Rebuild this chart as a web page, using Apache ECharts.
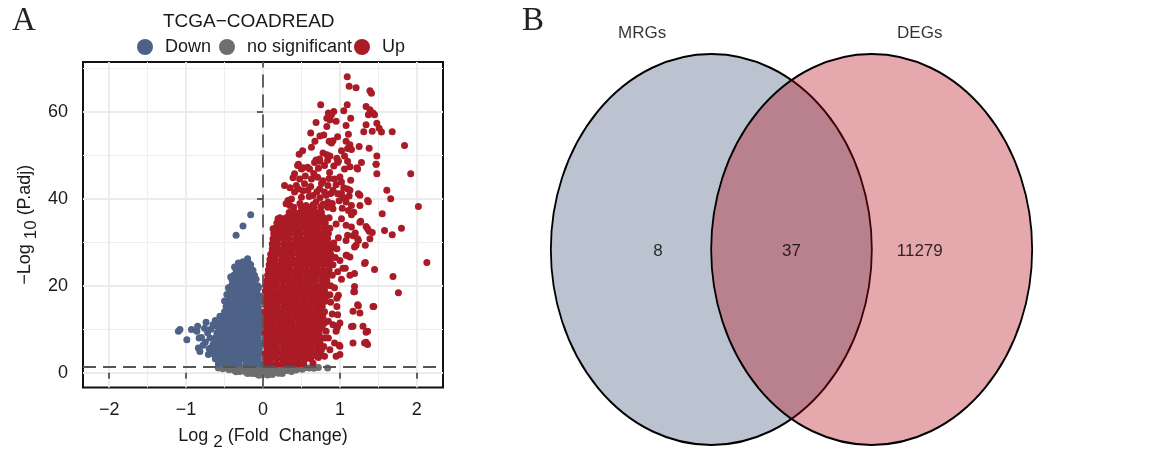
<!DOCTYPE html>
<html>
<head>
<meta charset="utf-8">
<title>TCGA-COADREAD volcano and Venn</title>
<script src="https://cdn.jsdelivr.net/npm/echarts@6/dist/echarts.min.js"></script>
<style>
html, body { margin: 0; padding: 0; background: #fff; }
#chart { width: 1154px; height: 456px; }
</style>
</head>
<body>
<div id="chart"></div>
<script>
// ---- panel A: volcano plot ----
var xTicks = [-2, -1, 0, 1, 2];
var xMinorTicks = [-1.5, -0.5, 0.5, 1.5];
var yTicks = [0, 20, 40, 60];
var yMinorTicks = [10, 30, 50, 70];
var fcCutoff = 0;
var padjCutoff = 1.3;
var groups = ['Down', 'no significant', 'Up'];

// [log2FC, -log10 p.adj]
var noSigPoints = [
    [-0.58, 1.1], [-0.52, 0.9], [-0.47, 1.2], [-0.44, 0.7], [-0.4, 1.0], [-0.37, 0.5], [-0.35, 0.2],
    [-0.33, 0.9], [-0.3, 0.3], [-0.28, 1.1], [-0.25, 0.6], [-0.22, 0.1], [-0.2, 1.0], [-0.2, -0.2],
    [-0.17, 0.4], [-0.15, -0.1], [-0.13, 0.8], [-0.12, -0.2], [-0.1, 0.2], [-0.08, -0.3], [-0.06, 0.9],
    [-0.05, -0.6], [-0.04, 0.4], [-0.02, -0.4], [0.0, 0.6], [0.02, 0.1], [0.03, -0.3], [0.05, 0.9],
    [0.06, -0.5], [0.07, 0.3], [0.09, -0.2], [0.11, 0.7], [0.12, -0.4], [0.13, 0.1], [0.15, 1.1],
    [0.17, 0.4], [0.2, -0.1], [0.22, 0.8], [0.25, 0.3], [0.25, -0.2], [0.28, 1.0], [0.31, 0.5],
    [0.34, 0.9], [0.37, 0.3], [0.4, 1.1], [0.43, 0.6], [0.47, 1.0], [0.51, 0.8], [0.55, 1.2],
    [0.6, 1.1], [0.66, 1.0], [0.72, 1.2], [0.84, 1.1]
];

// dense parts read row by row: [-log10 p.adj, log2FC, log2FC, ...]
var downRows = [
    [2.0, -0.58, -0.5, -0.45, -0.37, -0.31, -0.22, -0.16, -0.1, -0.03],
    [3.2, -0.62, -0.55, -0.48, -0.41, -0.34, -0.27, -0.2, -0.13, -0.06],
    [4.4, -0.66, -0.59, -0.52, -0.45, -0.38, -0.31, -0.24, -0.17, -0.1, -0.03],
    [5.6, -0.68, -0.61, -0.54, -0.47, -0.4, -0.33, -0.26, -0.19, -0.12, -0.05],
    [6.8, -0.63, -0.56, -0.49, -0.42, -0.35, -0.28, -0.21, -0.14, -0.07, -0.03],
    [8.0, -0.62, -0.55, -0.48, -0.41, -0.34, -0.27, -0.2, -0.13, -0.06],
    [9.2, -0.6, -0.53, -0.46, -0.39, -0.32, -0.25, -0.18, -0.11, -0.04],
    [10.4, -0.57, -0.5, -0.43, -0.36, -0.29, -0.22, -0.15, -0.08, -0.03],
    [11.6, -0.54, -0.47, -0.4, -0.33, -0.26, -0.19, -0.12, -0.05],
    [12.8, -0.52, -0.45, -0.38, -0.31, -0.24, -0.17, -0.1, -0.03],
    [14.0, -0.5, -0.43, -0.36, -0.29, -0.22, -0.15, -0.08, -0.03],
    [15.2, -0.48, -0.41, -0.34, -0.27, -0.2, -0.13, -0.06],
    [16.4, -0.45, -0.38, -0.31, -0.24, -0.17, -0.1, -0.03],
    [17.6, -0.44, -0.37, -0.3, -0.23, -0.16, -0.09, -0.04],
    [18.8, -0.43, -0.36, -0.29, -0.22, -0.15, -0.08],
    [20.0, -0.41, -0.34, -0.27, -0.2, -0.13, -0.07],
    [21.2, -0.4, -0.33, -0.26, -0.19, -0.12],
    [22.4, -0.38, -0.31, -0.24, -0.17, -0.11],
    [23.6, -0.35, -0.28, -0.21, -0.14],
    [24.8, -0.3, -0.23, -0.16],
    [25.8, -0.2]
];

var downPoints = [
    [-0.16, 36.3], [-0.26, 33.7], [-0.35, 31.6],
    [-1.1, 9.5], [-1.08, 9.9], [-0.99, 7.6], [-0.93, 9.9], [-0.85, 10.7], [-0.86, 9.5],
    [-0.74, 11.6], [-0.83, 8.0], [-0.8, 8.1], [-0.84, 5.7], [-0.82, 4.9], [-0.71, 4.2],
    [-0.65, 11.0], [-0.6, 10.7], [-0.69, 8.0], [-0.65, 6.5], [-0.58, 2.7], [-0.75, 7.0],
    [-0.72, 9.2], [-0.78, 6.3], [-0.7, 5.5], [-0.76, 10.2], [-0.68, 10.0], [-0.62, 12.0],
    [-0.56, 13.0], [-0.5, 16.5], [-0.47, 18.0], [-0.45, 19.5], [-0.42, 22.0], [-0.37, 24.3],
    [-0.32, 25.2], [-0.26, 25.5], [-0.18, 25.0], [-0.13, 23.5], [-0.09, 21.5], [-0.06, 19.5],
    [-0.2, 26.2], [-0.28, 24.6]
];

var upRows = [
    [2.0, 0.03, 0.1, 0.18, 0.25, 0.31, 0.39, 0.46, 0.53],
    [3.2, 0.04, 0.11, 0.18, 0.26, 0.33, 0.4, 0.47, 0.55, 0.62],
    [4.4, 0.03, 0.1, 0.17, 0.24, 0.31, 0.38, 0.45, 0.52, 0.6, 0.67],
    [5.6, 0.05, 0.12, 0.19, 0.27, 0.34, 0.41, 0.48, 0.56, 0.63, 0.71],
    [6.8, 0.03, 0.1, 0.17, 0.25, 0.32, 0.39, 0.46, 0.53, 0.6, 0.67, 0.74],
    [8.0, 0.05, 0.13, 0.2, 0.27, 0.34, 0.42, 0.49, 0.56, 0.63, 0.7, 0.76],
    [9.2, 0.03, 0.1, 0.17, 0.24, 0.31, 0.38, 0.45, 0.52, 0.59, 0.66, 0.73],
    [10.4, 0.05, 0.12, 0.2, 0.27, 0.34, 0.41, 0.48, 0.55, 0.62, 0.7, 0.77],
    [11.6, 0.03, 0.1, 0.17, 0.24, 0.31, 0.38, 0.46, 0.53, 0.6, 0.67, 0.74],
    [12.8, 0.05, 0.12, 0.19, 0.26, 0.33, 0.41, 0.48, 0.55, 0.62, 0.69, 0.77],
    [14.0, 0.03, 0.1, 0.17, 0.24, 0.31, 0.38, 0.45, 0.52, 0.6, 0.67, 0.74, 0.8],
    [15.2, 0.05, 0.12, 0.19, 0.27, 0.34, 0.41, 0.48, 0.55, 0.62, 0.7, 0.77],
    [16.4, 0.03, 0.1, 0.17, 0.24, 0.31, 0.38, 0.45, 0.53, 0.6, 0.67, 0.74, 0.81],
    [17.6, 0.05, 0.12, 0.19, 0.26, 0.33, 0.4, 0.47, 0.54, 0.62, 0.69, 0.76, 0.83],
    [18.8, 0.03, 0.1, 0.17, 0.24, 0.31, 0.38, 0.45, 0.52, 0.59, 0.66, 0.73, 0.8],
    [20.0, 0.04, 0.11, 0.18, 0.26, 0.33, 0.4, 0.47, 0.54, 0.61, 0.68, 0.75, 0.82, 0.88],
    [21.2, 0.05, 0.12, 0.19, 0.26, 0.33, 0.4, 0.47, 0.54, 0.61, 0.68, 0.76, 0.83],
    [22.4, 0.06, 0.13, 0.2, 0.27, 0.34, 0.41, 0.48, 0.56, 0.63, 0.7, 0.77, 0.84, 0.9],
    [23.6, 0.07, 0.14, 0.21, 0.28, 0.35, 0.43, 0.5, 0.57, 0.64, 0.71, 0.78, 0.86],
    [24.8, 0.08, 0.15, 0.22, 0.29, 0.36, 0.43, 0.5, 0.57, 0.64, 0.71, 0.78, 0.85, 0.91],
    [26.0, 0.09, 0.16, 0.24, 0.31, 0.38, 0.45, 0.52, 0.59, 0.66, 0.73, 0.8, 0.87],
    [27.2, 0.1, 0.17, 0.24, 0.31, 0.38, 0.46, 0.53, 0.6, 0.67, 0.74, 0.81, 0.88],
    [28.4, 0.12, 0.19, 0.26, 0.33, 0.4, 0.47, 0.54, 0.61, 0.68, 0.75, 0.82, 0.88],
    [29.6, 0.12, 0.19, 0.27, 0.34, 0.41, 0.48, 0.55, 0.62, 0.69, 0.76, 0.83, 0.9],
    [30.8, 0.13, 0.2, 0.27, 0.34, 0.42, 0.49, 0.56, 0.63, 0.7, 0.77, 0.84],
    [32.0, 0.14, 0.21, 0.28, 0.35, 0.42, 0.49, 0.57, 0.64, 0.71, 0.78, 0.85],
    [33.2, 0.16, 0.23, 0.3, 0.37, 0.44, 0.51, 0.58, 0.65, 0.72, 0.8, 0.87],
    [34.4, 0.18, 0.25, 0.32, 0.39, 0.46, 0.53, 0.6, 0.67, 0.74, 0.81],
    [35.6, 0.22, 0.3, 0.37, 0.44, 0.51, 0.58, 0.65, 0.72, 0.79, 0.86],
    [36.8, 0.34, 0.41, 0.48, 0.55, 0.62, 0.69, 0.76],
    [38.0, 0.4, 0.5, 0.58, 0.66, 0.75, 0.84]
];

var upPoints = [
    // top
    [1.095, 68.0], [1.12, 65.8], [1.21, 65.5], [1.39, 64.8], [1.41, 64.2],
    [0.75, 61.6], [1.095, 61.6], [1.34, 61.2], [0.85, 59.7], [0.89, 59.3], [0.92, 60.0], [1.05, 60.2],
    [1.39, 60.4], [1.43, 59.7], [1.45, 59.3], [0.87, 58.1], [0.95, 57.8], [0.83, 58.5], [1.14, 58.5],
    [0.69, 57.5], [1.37, 59.3], [1.34, 57.0], [1.48, 57.3], [1.51, 56.2], [1.54, 55.3], [1.08, 56.8],
    [0.83, 56.6], [1.31, 55.4], [1.42, 55.5], [1.68, 55.4], [0.62, 55.1], [1.11, 54.8], [0.74, 54.4],
    [0.79, 54.6], [0.97, 54.2], [0.675, 53.2], [0.86, 53.2], [0.89, 52.8], [0.91, 53.3], [1.08, 53.2],
    [1.13, 52.4], [1.1, 51.5], [1.15, 51.3], [1.02, 51.0], [1.06, 49.8], [1.25, 52.0], [1.38, 51.6],
    [1.84, 52.2], [0.63, 51.8], [0.515, 51.0], [0.47, 50.2], [0.78, 50.5], [0.83, 50.1], [0.87, 49.8],
    [0.69, 48.9], [0.74, 48.6], [0.96, 49.3], [0.98, 48.6], [1.48, 49.8], [1.47, 47.9], [1.28, 48.3],
    [0.46, 47.9], [0.52, 47.1], [1.1, 48.6], [1.13, 47.3], [1.22, 47.1],
    // middle band
    [0.28, 43.0], [0.325, 39.6], [0.35, 38.4], [0.45, 47.6], [1.23, 46.8], [1.36, 39.6], [1.26, 38.4],
    [0.5, 46.8], [0.41, 45.7], [0.476, 44.5], [0.54, 43.4], [0.584, 41.9], [0.65, 40.7], [0.69, 39.2],
    [0.71, 44.9], [0.78, 44.1], [0.844, 43.0], [0.91, 41.9], [0.97, 41.1], [1.04, 40.3], [1.08, 39.2],
    [1.15, 38.4], [0.8, 41.5], [0.736, 42.2], [0.63, 44.5], [0.606, 46.8], [0.67, 48.3], [0.736, 49.1],
    [0.8, 47.6], [0.866, 46.0], [0.93, 44.5], [1.02, 43.8], [1.06, 46.8], [0.97, 48.3], [1.1, 42.2],
    [0.41, 41.5], [0.433, 43.0], [0.37, 39.9], [0.3, 38.8], [0.5, 40.3], [0.56, 38.4], [0.844, 39.2],
    [0.91, 37.7], [0.35, 42.5], [0.39, 44.8], [0.46, 42.2], [0.52, 41.8], [0.55, 45.2], [0.6, 40.5],
    [0.62, 42.8], [0.66, 45.8], [0.7, 41.6], [0.74, 40.2], [0.76, 43.5], [0.82, 40.8], [0.86, 44.6],
    [0.88, 41.2], [0.9, 38.9], [0.95, 43.2], [0.99, 39.5], [1.0, 45.0], [1.03, 37.8], [1.05, 42.5],
    [1.12, 40.6], [1.14, 44.2], [1.18, 36.9], [0.48, 38.9], [0.58, 47.2], [0.72, 47.0], [0.84, 48.8],
    [0.92, 47.5], [0.65, 38.6], [0.78, 38.7],
    // edge of the dense block
    [0.195, 35.4], [0.13, 33.1], [0.11, 25.1],
    [1.02, 35.4], [1.08, 33.9], [1.15, 33.5], [1.1, 31.6], [1.08, 30.4], [1.08, 27.0], [1.13, 26.6],
    [1.19, 22.8], [1.19, 19.8], [1.19, 18.6], [0.95, 34.2], [0.98, 31.0], [0.96, 28.5], [1.0, 25.8],
    [0.97, 23.2], [1.02, 21.5], [0.93, 19.5], [0.98, 17.8], [0.88, 16.2], [0.9, 13.5], [0.85, 11.8],
    [0.82, 9.5], [0.8, 8.0], [0.79, 6.0], [0.72, 3.5], [0.65, 2.2], [0.94, 26.5], [0.92, 29.8], [1.04, 24.0],
    [0.97, 13.3], [1.0, 11.4], [1.17, 10.7], [1.3, 10.7], [1.36, 9.5], [1.17, 6.8], [1.32, 6.8],
    [1.36, 6.5], [1.34, 7.0], [0.93, 6.8], [1.0, 6.1], [0.87, 5.3], [0.95, 3.8], [1.0, 4.2], [0.8, 3.8],
    [0.76, 5.3], [0.95, 9.5], [0.97, 10.7], [1.23, 15.6], [1.17, 14.1], [1.44, 15.2],
    [1.34, 9.3], [1.15, 10.6], [1.24, 15.4], [1.26, 13.7], [1.18, 18.6], [1.13, 22.4], [1.07, 24.0],
    [1.09, 27.0], [1.24, 30.4], [1.17, 31.5], [1.33, 29.3], [1.19, 28.9], [1.2, 32.1], [1.34, 33.6],
    [1.11, 37.3], [1.15, 36.3], [1.13, 41.9], [1.07, 40.0], [1.26, 40.8], [1.02, 41.2],
    [0.91, 11.0], [0.96, 10.3], [0.8, 11.4], [0.78, 12.6], [0.96, 15.2], [0.96, 17.1], [0.87, 17.9],
    [0.99, 6.3], [0.85, 8.0], [0.74, 4.6], [0.7, 3.8],
    // far right
    [1.92, 45.7], [2.02, 38.2], [2.13, 25.3], [1.61, 41.9], [1.66, 40.0], [1.55, 36.5], [1.8, 33.2],
    [1.68, 31.7], [1.58, 32.7], [1.69, 22.1], [1.76, 18.4], [1.45, 23.7], [1.43, 15.2], [1.37, 39.3],
    [1.38, 32.5], [1.42, 32.2], [1.33, 25.3], [1.48, 45.7], [1.24, 41.1], [1.27, 34.8], [1.39, 30.8],
    [1.36, 33.1], [1.23, 30.8], [1.21, 29.3], [1.32, 25.1], [1.26, 34.6], [1.47, 47.9]
];

// ---- panel B: Venn ----
var vennSets = ['MRGs', 'DEGs'];
var vennCounts = [8, 37, 11279];   // MRGs only, both, DEGs only

function fromRows(rows) {
    var pts = [];
    for (var r = 0; r < rows.length; r++) {
        for (var i = 1; i < rows[r].length; i++) {
            pts.push([rows[r][i], rows[r][0]]);
        }
    }
    return pts;
}

var downData = fromRows(downRows).concat(downPoints);
var upData = fromRows(upRows).concat(upPoints);

var SANS = 'Liberation Sans';
var colors = { down: '#4E6287', none: '#6E6E6E', up: '#AA1B26' };
var dot = 7;

function minusFmt(v) {
    return v < 0 ? '\u2212' + Math.abs(v) : String(v);
}

// layout of the Venn panel, in its own axis units (one unit = one radius)
var vennCentres = [[1, 1], [2, 1]];
var vennCountPos = [[0.667, 0.99], [1.5, 0.99], [2.3, 0.99]];
var vennTitlePos = [[0.568, 2.107], [2.3, 2.107]];

var legendBase = {
    top: 33, icon: 'circle', itemWidth: 16, itemHeight: 16,
    selectedMode: false,
    textStyle: { fontSize: 18, color: '#1a1a1a', fontFamily: SANS, padding: [0, 0, 0, 7] }
};

var option = {
    animation: false,
    backgroundColor: '#fff',
    title: [
        { text: 'A', left: 7, top: 0, textStyle: { fontFamily: 'Liberation Serif', fontWeight: 'normal', fontSize: 33, color: '#222' } },
        { text: 'B', left: 517, top: 0, textStyle: { fontFamily: 'Liberation Serif', fontWeight: 'normal', fontSize: 33, color: '#222' } },
        { text: 'TCGA\u2212COADREAD', left: 158, top: 7, textStyle: { fontFamily: SANS, fontWeight: 'normal', fontSize: 19, color: '#1a1a1a' } }
    ],
    legend: [
        Object.assign({}, legendBase, { data: [groups[0]], left: 132 }),
        Object.assign({}, legendBase, { data: [groups[1]], left: 214 }),
        Object.assign({}, legendBase, { data: [groups[2]], left: 349 })
    ],
    grid: [
        { left: 83, top: 62, width: 360, height: 328, show: true, borderColor: '#111', borderWidth: 2, backgroundColor: 'transparent' },
        { left: 551, top: 54, width: 481, height: 391, show: false }
    ],
    xAxis: [
        {
            gridIndex: 0, type: 'value', min: -2.34, max: 2.34, position: 'bottom',
            axisLine: { show: false },
            axisTick: { show: true, length: 6, customValues: xTicks, lineStyle: { color: '#333', width: 1.5 } },
            axisLabel: { customValues: xTicks, formatter: minusFmt, fontSize: 18, color: '#1a1a1a', fontFamily: SANS, margin: 14 },
            splitLine: { show: true, lineStyle: { color: '#ebebeb', width: 1.8 } },
            name: '{n|Log }{s|2}{n| (Fold  Change)}',
            nameLocation: 'middle', nameGap: 40,
            nameTextStyle: {
                rich: {
                    n: { fontSize: 18, fontFamily: SANS, color: '#1a1a1a', padding: [0, 0, 6, 0] },
                    s: { fontSize: 17, fontFamily: SANS, color: '#1a1a1a', padding: [6, 0, 0, 0] }
                }
            }
        },
        {
            gridIndex: 0, type: 'value', min: -2.34, max: 2.34,
            axisLine: { show: false },
            axisTick: { show: false, customValues: xMinorTicks },
            axisLabel: { show: false },
            splitLine: { show: true, lineStyle: { color: '#eeeeee', width: 1 } }
        },
        { gridIndex: 1, type: 'value', min: 0, max: 3, show: false }
    ],
    yAxis: [
        {
            gridIndex: 0, type: 'value', min: -3.4, max: 71.4,
            axisLine: { show: false },
            axisTick: { show: true, length: 6, customValues: yTicks, lineStyle: { color: '#333', width: 1.5 } },
            axisLabel: { customValues: yTicks, fontSize: 18, color: '#1a1a1a', fontFamily: SANS, margin: 15 },
            splitLine: { show: true, lineStyle: { color: '#ebebeb', width: 1.8 } },
            name: '{n|\u2212Log }{s|10}{n| (P.adj)}',
            nameLocation: 'middle', nameGap: 43,
            nameTextStyle: {
                rich: {
                    n: { fontSize: 18, fontFamily: SANS, color: '#1a1a1a', padding: [0, 0, 6, 0] },
                    s: { fontSize: 17, fontFamily: SANS, color: '#1a1a1a', padding: [6, 0, 0, 0] }
                }
            }
        },
        {
            gridIndex: 0, type: 'value', min: -3.4, max: 71.4,
            axisLine: { show: false },
            axisTick: { show: false, customValues: yMinorTicks },
            axisLabel: { show: false },
            splitLine: { show: true, lineStyle: { color: '#eeeeee', width: 1 } }
        },
        { gridIndex: 1, type: 'value', min: 0, max: 2, show: false }
    ],
    series: [
        {
            name: groups[1], type: 'scatter', xAxisIndex: 0, yAxisIndex: 0,
            data: noSigPoints, symbolSize: dot, progressive: 0, silent: true,
            itemStyle: { color: colors.none, opacity: 1 },
            markLine: {
                silent: true, symbol: 'none', label: { show: false },
                lineStyle: { color: '#555', width: 1.8, type: [13, 7] },
                data: [{ xAxis: fcCutoff }, { yAxis: padjCutoff }]
            }
        },
        {
            name: groups[0], type: 'scatter', xAxisIndex: 0, yAxisIndex: 0,
            data: downData, symbolSize: dot, progressive: 0, silent: true,
            itemStyle: { color: colors.down, opacity: 1 }
        },
        {
            name: groups[2], type: 'scatter', xAxisIndex: 0, yAxisIndex: 0,
            data: upData, symbolSize: dot, progressive: 0, silent: true,
            itemStyle: { color: colors.up, opacity: 1 }
        },
        {
            name: 'venn', type: 'scatter', xAxisIndex: 2, yAxisIndex: 2, clip: false, silent: true,
            symbolSize: [321, 391],
            itemStyle: { borderColor: '#000', borderWidth: 2, opacity: 1 },
            data: [
                { value: vennCentres[0], itemStyle: { color: '#bcc3d0' } },
                { value: vennCentres[1], itemStyle: { color: 'rgba(181,6,21,0.35)' } }
            ]
        },
        {
            name: 'venn labels', type: 'scatter', xAxisIndex: 2, yAxisIndex: 2, clip: false, silent: true,
            symbolSize: 1, itemStyle: { color: 'rgba(0,0,0,0)' },
            label: { show: true, position: 'inside', formatter: '{b}', fontSize: 17, color: '#000', fontFamily: SANS },
            data: [
                { value: vennCountPos[0], name: String(vennCounts[0]) },
                { value: vennCountPos[1], name: String(vennCounts[1]) },
                { value: vennCountPos[2], name: String(vennCounts[2]) },
                { value: vennTitlePos[0], name: vennSets[0] },
                { value: vennTitlePos[1], name: vennSets[1] }
            ]
        }
    ]
};

var chart = echarts.init(document.getElementById('chart'));
chart.setOption(option);
</script>
</body>
</html>
